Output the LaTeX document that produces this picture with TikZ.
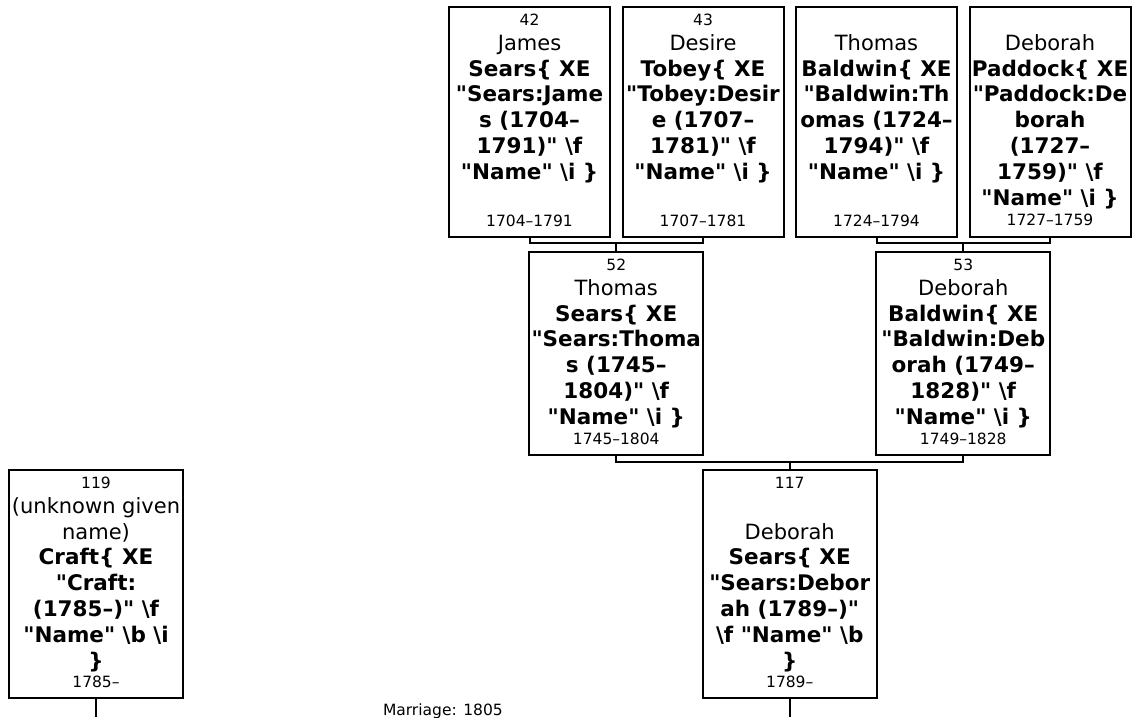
\documentclass[tikz,border=0pt]{standalone}
\usepackage{fontspec}
\setmainfont{DejaVu Sans}[Ligatures=TeXOff]
\usetikzlibrary{positioning,calc}
\tikzset{
  person/.style={draw=black,line width=2pt,inner sep=0pt,outer sep=0pt,
                 minimum width=174pt,minimum height=228pt},
  gen1/.style={person,minimum width=161pt,minimum height=230pt},
  gen2/.style={person,minimum height=203pt},
  idno/.style={inner sep=0pt,font=\fontsize{15.5}{18}\selectfont},
  years/.style={idno},
  names/.style={align=center,inner sep=0pt,anchor=north,
                font=\bfseries\fontsize{21.5}{25.8}\selectfont},
  link/.style={line width=2pt}
}
\newcommand{\given}[1]{{\mdseries\fontsize{21}{25.8}\selectfont\rule{0pt}{17pt}#1}}
\newcommand{\bsl}{\textbackslash}

\begin{document}
\begin{tikzpicture}[x=1pt,y=-1pt,node distance=12.5pt]
  \useasboundingbox (0,0) rectangle (1142,717);
  % grandparents
  \node[gen1,anchor=north west] (jsears) at (449,7) {};
  \node[gen1,right=of jsears] (dtobey) {};
  \node[gen1,right=of dtobey] (tbaldwin) {};
  \node[gen1,right=of tbaldwin] (dpaddock) {};
  % parents
  \node[gen2,anchor=north] (tsears)
    at ($(jsears.south)!0.5!(dtobey.south)+(0,15)$) {};
  \node[gen2,anchor=north] (dbaldwin)
    at ($(tbaldwin.south)!0.5!(dpaddock.south)+(0,15)$) {};
  % couple
  \node[person,anchor=north] (dsears)
    at ($(tsears.south)!0.5!(dbaldwin.south)+(0,15)$) {};
  \node[person,anchor=north] (craft) at (96,470) {};

  \node[idno] (jsears-no) at ([yshift=-13pt]jsears.north) {42};
  \node[names] (jsears-nm) at ([yshift=-26pt]jsears.north)
    {\given{James}\\Sears\{ XE\\"Sears:Jame\\s (1704–\\1791)" \bsl f\\"Name" \bsl i \}};
  \node[years] (jsears-yr) at ([yshift=16pt]jsears.south) {1704–1791};

  \node[idno] (dtobey-no) at ([yshift=-13pt]dtobey.north) {43};
  \node[names] (dtobey-nm) at ([yshift=-26pt]dtobey.north)
    {\given{Desire}\\Tobey\{ XE\\"Tobey:Desir\\e (1707–\\1781)" \bsl f\\"Name" \bsl i \}};
  \node[years] (dtobey-yr) at ([yshift=16pt]dtobey.south) {1707–1781};

  \node[names] (tbaldwin-nm) at ([yshift=-26pt]tbaldwin.north)
    {\given{Thomas}\\Baldwin\{ XE\\"Baldwin:Th\\omas (1724–\\1794)" \bsl f\\"Name" \bsl i \}};
  \node[years] (tbaldwin-yr) at ([yshift=16pt]tbaldwin.south) {1724–1794};

  \node[names] (dpaddock-nm) at ([yshift=-26pt]dpaddock.north)
    {\given{Deborah}\\Paddock\{ XE\\"Paddock:De\\borah\\(1727–\\1759)" \bsl f\\"Name" \bsl i \}};
  \node[years] (dpaddock-yr) at ([yshift=17pt]dpaddock.south) {1727–1759};

  \node[idno] (tsears-no) at ([yshift=-13pt]tsears.north) {52};
  \node[names] (tsears-nm) at ([yshift=-26pt]tsears.north)
    {\given{Thomas}\\Sears\{ XE\\"Sears:Thoma\\s (1745–\\1804)" \bsl f\\"Name" \bsl i \}};
  \node[years] (tsears-yr) at ([yshift=16pt]tsears.south) {1745–1804};

  \node[idno] (dbaldwin-no) at ([yshift=-13pt]dbaldwin.north) {53};
  \node[names] (dbaldwin-nm) at ([yshift=-26pt]dbaldwin.north)
    {\given{Deborah}\\Baldwin\{ XE\\"Baldwin:Deb\\orah (1749–\\1828)" \bsl f\\"Name" \bsl i \}};
  \node[years] (dbaldwin-yr) at ([yshift=16pt]dbaldwin.south) {1749–1828};

  \node[idno] (dsears-no) at ([yshift=-13pt]dsears.north) {117};
  \node[names] (dsears-nm) at ([yshift=-26pt]dsears.north)
    {\rule{0pt}{17pt}\\\given{Deborah}\\Sears\{ XE\\"Sears:Debor\\ah (1789–)"\\\bsl f "Name" \bsl b\\\}};
  \node[years] (dsears-yr) at ([yshift=16pt]dsears.south) {1789–};

  \node[idno] (craft-no) at ([yshift=-13pt]craft.north) {119};
  \node[names] (craft-nm) at ([yshift=-26pt]craft.north)
    {\given{(unknown given}\\\given{name)}\\Craft\{ XE\\"Craft:\\(1785–)" \bsl f\\"Name" \bsl b \bsl i\\\}};
  \node[years] (craft-yr) at ([yshift=16pt]craft.south) {1785–};

  % lines of descent
  \draw[link] (jsears.south) -- ++(0,6) -| (dtobey.south);
  \draw[link] (tsears.north) -- ++(0,-9);
  \draw[link] (tbaldwin.south) -- ++(0,6) -| (dpaddock.south);
  \draw[link] (dbaldwin.north) -- ++(0,-9);
  \draw[link] (tsears.south) -- ++(0,7) -| (dbaldwin.south);
  \draw[link] (dsears.north) -- ++(0,-8);
  \coordinate (craft-end) at (craft.south |- 0,717);
  \coordinate (dsears-end) at (dsears.south |- 0,717);
  \draw[link] (craft.south) -- (craft-end);
  \draw[link] (dsears.south) -- (dsears-end);
  \node[years,anchor=base] (marriage)
    at ($(craft-end)!0.5!(dsears-end)+(0,-2)$) {Marriage: 1805};
\end{tikzpicture}
\end{document}
